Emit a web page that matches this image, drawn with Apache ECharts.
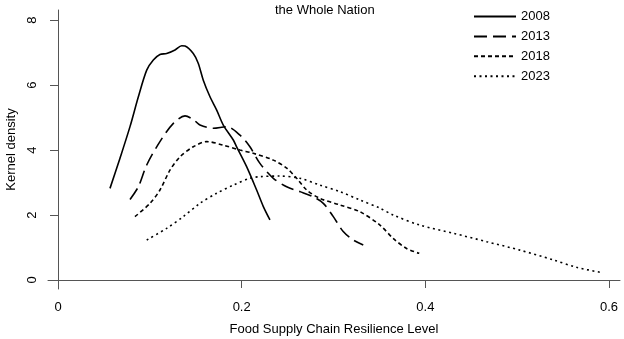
<!DOCTYPE html>
<html><head><meta charset="utf-8">
<script src="https://cdn.jsdelivr.net/npm/echarts@6/dist/echarts.min.js"></script>
<style>html,body{margin:0;padding:0;background:#fff}#c{width:624px;height:339px}</style>
</head><body><div id="c"></div>
<script>
const years = ['2008', '2013', '2018', '2023'];
const xTicks = [0, 0.2, 0.4, 0.6];
const yTicks = [0, 2, 4, 6, 8];
const s2008 = [[0.0566,2.82],[0.0675,3.75],[0.0784,4.72],[0.0875,5.64],[0.0966,6.46],[0.1038,6.77],[0.111,6.94],[0.1183,6.97],[0.1274,7.08],[0.1347,7.21],[0.1383,7.20],[0.1473,6.97],[0.1527,6.67],[0.1582,6.15],[0.1655,5.64],[0.1728,5.23],[0.18,4.77],[0.1909,4.31],[0.1945,4.10],[0.2054,3.49],[0.2163,2.77],[0.2236,2.26],[0.2308,1.85]];
const s2013 = [[0.0784,2.48],[0.0875,2.87],[0.0966,3.54],[0.111,4.26],[0.1256,4.82],[0.1383,5.05],[0.1473,4.94],[0.1546,4.77],[0.169,4.67],[0.1837,4.72],[0.1981,4.46],[0.209,4.10],[0.2199,3.59],[0.2345,3.13],[0.249,2.87],[0.2635,2.72],[0.278,2.56],[0.2889,2.36],[0.2998,1.95],[0.3106,1.49],[0.3215,1.23],[0.3324,1.08]];
const s2018 = [[0.0838,1.95],[0.1002,2.36],[0.111,2.77],[0.1219,3.38],[0.1328,3.79],[0.1473,4.10],[0.1619,4.26],[0.18,4.15],[0.1981,4.0],[0.2126,3.90],[0.2345,3.69],[0.249,3.44],[0.2599,3.13],[0.2708,2.77],[0.2853,2.51],[0.307,2.31],[0.3288,2.10],[0.3506,1.69],[0.365,1.28],[0.3796,0.97],[0.3934,0.82]];
const s2023 = [[0.0966,1.23],[0.1183,1.59],[0.1364,1.95],[0.1546,2.36],[0.1728,2.67],[0.1909,2.92],[0.209,3.13],[0.2199,3.18],[0.2417,3.20],[0.2635,3.13],[0.2853,2.92],[0.307,2.72],[0.3288,2.46],[0.3506,2.21],[0.365,2.0],[0.3941,1.69],[0.4304,1.44],[0.4667,1.18],[0.503,0.92],[0.5393,0.62],[0.5647,0.39],[0.5937,0.22]];
const seriesData = [s2008, s2013, s2018, s2023];
const dashTypes = ['solid', [13, 6], [4, 3], [2, 3.5]];

const font = 'Liberation Sans, Arial, sans-serif';
const chart = echarts.init(document.getElementById('c'), null, {renderer: 'canvas'});
chart.setOption({
  animation: false,
  backgroundColor: '#fff',
  title: {text: 'the Whole Nation', left: 270, top: -1,
    textStyle: {fontFamily: font, fontSize: 13, fontWeight: 'normal', color: '#000'}},
  legend: {
    orient: 'vertical', left: 468, top: 5, itemWidth: 42, itemHeight: 14, itemGap: 6.9,
    itemStyle: {opacity: 0},
    textStyle: {fontFamily: font, fontSize: 13, color: '#000', padding: 0},
    data: years
  },
  grid: {left: 48, right: 4, top: 10, bottom: 50, containLabel: false, outerBoundsMode: 'none'},
  xAxis: {
    type: 'value', min: -0.0109, max: 0.612,
    name: 'Food Supply Chain Resilience Level', nameLocation: 'middle', nameGap: 34,
    nameTextStyle: {fontFamily: font, fontSize: 13, color: '#000'},
    axisLine: {show: true, lineStyle: {color: '#555', width: 1}},
    axisTick: {show: true, length: 8, customValues: xTicks, lineStyle: {color: '#555'}},
    axisLabel: {customValues: xTicks, margin: 12, fontFamily: font, fontSize: 13, color: '#000',
      formatter: v => v === 0 ? '0' : String(v)},
    splitLine: {show: false}
  },
  yAxis: {
    type: 'value', min: -0.277, max: 8.31,
    name: 'Kernel density', nameLocation: 'middle', nameGap: 29,
    nameTextStyle: {fontFamily: font, fontSize: 13, color: '#000'},
    axisLine: {show: true, lineStyle: {color: '#555', width: 1}},
    axisTick: {show: true, length: 8, customValues: yTicks, lineStyle: {color: '#555'}},
    axisLabel: {customValues: yTicks, rotate: 90, margin: 9, fontFamily: font, fontSize: 13, color: '#000'},
    splitLine: {show: false}
  },
  series: years.map((y, i) => ({
    name: y, type: 'line', data: seriesData[i], showSymbol: false, symbol: 'none',
    smooth: 0.3,
    lineStyle: {color: '#000', width: 1.6, type: dashTypes[i]},
    itemStyle: {color: '#000'}
  }))
});
</script></body></html>
